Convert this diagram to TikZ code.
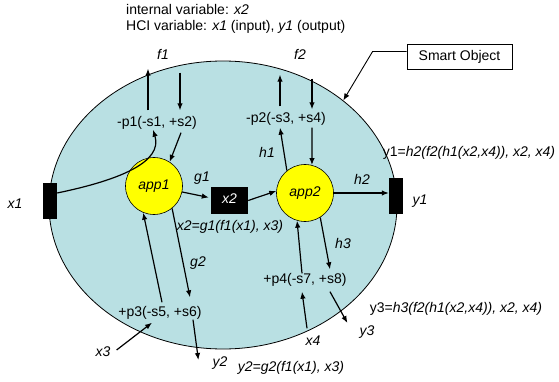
\documentclass[tikz,border=0pt]{standalone}
\usepackage{fontspec}
\setmainfont{Liberation Sans}
\usepackage{tikz}
\usetikzlibrary{arrows.meta, shapes.geometric}
\definecolor{objfill}{HTML}{B9E0E3}
\definecolor{appfill}{HTML}{FFFF00}
\newcommand{\figfont}{\fontsize{14}{16}\selectfont}
\tikzset{
  obj/.style={ellipse, draw=black, fill=objfill, line width=0.8pt,
              minimum width=348pt, minimum height=288pt, inner sep=0pt},
  app/.style={circle, draw=black, fill=appfill, line width=0.6pt,
              minimum size=57pt, inner sep=0pt, font=\figfont\itshape},
  port/.style={rectangle, fill=black, inner sep=0pt},
  txt/.style={inner sep=0pt, text height=10pt, text depth=3pt, font=\figfont},
  lbl/.style={txt, font=\figfont\itshape},
  callout/.style={rectangle, draw=black, line width=0.8pt, font=\figfont,
                  minimum width=105pt, minimum height=25pt},
  flow/.style={-{Latex[length=7pt,width=5.5pt]}, line width=1.2pt},
}
\begin{document}
\begin{tikzpicture}[x=1pt, y=-1pt]
  \useasboundingbox (0,0) rectangle (559,382);
  % smart object
  \node[obj] (obj) at (223,205) {};
  \node[callout] (so) at (459.5,56.5) {Smart Object};
  \draw[flow, line width=0.9pt] ([yshift=5pt]so.west) -- ++(-34,0) -- (obj.41);
  \node[txt, anchor=west] (info) at (126,11) {internal variable: \textit{x2}};
  \node[txt, anchor=west] (hci) at (126,27) {HCI variable: \textit{x1} (input), \textit{y1} (output)};
  % ports and apps
  \node[port, minimum width=14pt, minimum height=36pt] (x1box) at (50,201) {};
  \node[port, minimum width=14pt, minimum height=36pt] (y1box) at (396,196) {};
  \node[port, lbl, text=white, minimum width=37pt, minimum height=27pt] (x2box) at (229.5,200.5) {x2};
  \node[app] (app1) at (154,186) {app1};
  \node[app] (app2) at (305,193) {app2};
  % places
  \node[txt] (p1) at (157,123) {-p1(-s1, +s2)};
  \node[txt] (p2) at (286,119) {-p2(-s3, +s4)};
  \node[txt] (p3) at (160,313) {+p3(-s5, +s6)};
  \node[txt] (p4) at (305,280) {+p4(-s7, +s8)};
  % labels
  \node[lbl] (f1) at (163,56) {f1};
  \node[lbl] (f2) at (300,56) {f2};
  \node[lbl] (g1) at (202,178) {g1};
  \node[lbl] (g2) at (198,263) {g2};
  \node[lbl] (h1) at (267,154) {h1};
  \node[lbl] (h2) at (362,181) {h2};
  \node[lbl] (h3) at (343,245) {h3};
  \node[lbl] (lx1) at (15,205) {x1};
  \node[lbl] (ly1) at (420,201) {y1};
  \node[lbl] (lx3) at (103,353) {x3};
  \node[lbl] (lx4) at (313,342) {x4};
  \node[lbl] (ly2) at (220,363) {y2};
  \node[lbl] (ly3) at (367,332) {y3};
  \node[lbl] (x2eq) at (230,227) {x2=g1(f1(x1), x3)};
  \node[lbl] (y2eq) at (291,368) {y2=g2(f1(x1), x3)};
  \node[txt] (y1eq) at (469,153) {y1=\textit{h2(f2(h1(x2,x4)), x2, x4)}};
  \node[txt] (y3eq) at (456,309) {y3=\textit{h3(f2(h1(x2,x4)), x2, x4)}};
  % app1
  \draw[flow] ([yshift=8pt]x1box.east) .. controls (120,180) and (163,162) .. ([xshift=-4pt]p1.south);
  \draw[flow] ([xshift=-9pt,yshift=6pt]p1.north) -- ([xshift=-15pt,yshift=-6pt]f1.south);
  \draw[flow] ([xshift=17pt,yshift=-10pt]f1.south) -- ([xshift=23pt,yshift=6pt]p1.north);
  \draw[flow] ([xshift=24pt,yshift=-3pt]p1.south) -- (app1.57);
  \draw[flow] (app1.-12) -- ([xshift=-2pt,yshift=3pt]x2box.west);
  \draw[flow] ([xshift=2pt,yshift=4pt]p3.north) -- (app1.-112);
  \draw[flow] (app1.-51) -- ([xshift=30pt,yshift=9pt]p3.north);
  \draw[flow] ([xshift=6pt,yshift=3pt]lx3.east) -- ([xshift=-8pt,yshift=-3pt]p3.south);
  \draw[flow] ([xshift=33pt]p3.south) -- ([xshift=-14pt,yshift=3pt]ly2.west);
  % app2
  \draw[flow] (x2box.east) -- (app2.176);
  \draw[flow] (app2.129) -- ([xshift=-6pt,yshift=-2pt]p2.south);
  \draw[flow] ([xshift=-6pt,yshift=6pt]p2.north) -- ([xshift=-20pt,yshift=-12pt]f2.south);
  \draw[flow] ([xshift=12pt,yshift=-16pt]f2.south) -- ([xshift=26pt,yshift=3pt]p2.north);
  \draw[flow] ([xshift=26pt,yshift=-2pt]p2.south) -- (app2.76);
  \draw[flow] (app2.0) -- (app2.0 -| y1box.west);
  \draw[flow] ([xshift=-3pt]p4.north) -- (app2.-106);
  \draw[flow] (app2.-58) -- ([xshift=25pt,yshift=4pt]p4.north);
  \draw[flow] ([xshift=-6pt,yshift=7pt]lx4.north) -- ([xshift=-3pt,yshift=-5pt]p4.south);
  \draw[flow] ([xshift=25pt,yshift=-5pt]p4.south) -- ([xshift=-12pt,yshift=9pt]ly3.west);
\end{tikzpicture}
\end{document}
